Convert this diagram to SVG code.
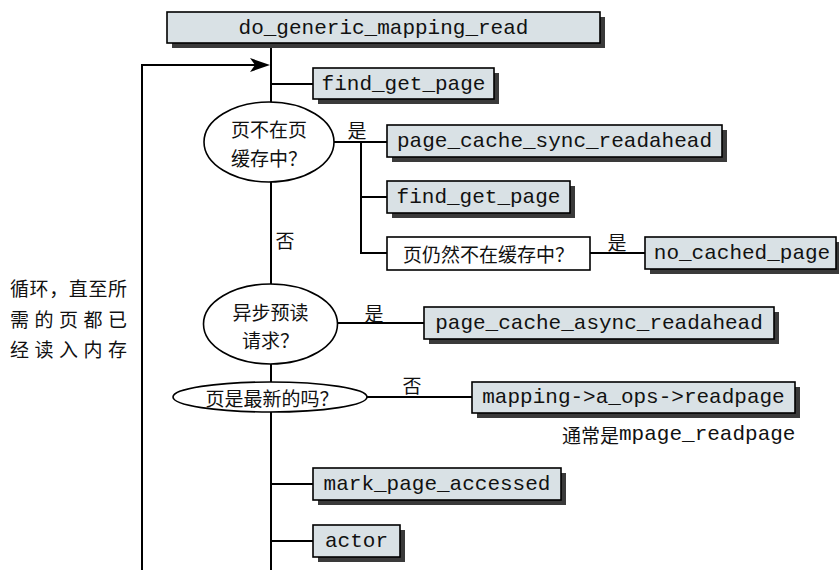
<svg xmlns="http://www.w3.org/2000/svg" width="839" height="570" viewBox="0 0 839 570">
<style>
.box{fill:#d9e1e5;stroke:#000;stroke-width:1.6}
.wbox{fill:#fff;stroke:#000;stroke-width:1.6}
.sh{fill:#3a3a3a}
.mono{font-family:"Liberation Mono","DejaVu Sans Mono",monospace;font-size:21px;fill:#111;dominant-baseline:central}
.cjk{font-family:"Noto Sans CJK SC",sans-serif;font-size:19px;fill:#111;dominant-baseline:central}
.ell{fill:#fff;stroke:#000;stroke-width:1.6}
.ln{fill:none;stroke:#000;stroke-width:2}
</style>
<rect width="839" height="570" fill="#fff"/>
<g id="connectors">
<line class="ln" x1="271" y1="43" x2="271" y2="570"/>
<polyline class="ln" points="142,570 142,65 258,65"/>
<polygon points="270,65 250,58 255,65 250,72" fill="#000"/>
<line class="ln" x1="271" y1="84" x2="313" y2="84"/>
<line class="ln" x1="330" y1="142" x2="387" y2="142"/>
<polyline class="ln" points="361,142 361,253 387,253"/>
<line class="ln" x1="361" y1="197" x2="387" y2="197"/>
<line class="ln" x1="590" y1="253" x2="645" y2="253"/>
<line class="ln" x1="336" y1="323" x2="424" y2="323"/>
<line class="ln" x1="366" y1="397" x2="472" y2="397"/>
<line class="ln" x1="271" y1="484" x2="313" y2="484"/>
<line class="ln" x1="271" y1="541" x2="313" y2="541"/>
</g>
<g id="n_top">
<rect class="sh" x="172" y="17" width="433" height="31"/>
<rect class="box" x="167" y="12" width="433" height="31"/>
<text class="mono" x="383.5" y="28" text-anchor="middle">do_generic_mapping_read</text>
</g>
<g id="n_find1">
<rect class="sh" x="318" y="73" width="181" height="31"/>
<rect class="box" x="313" y="68" width="181" height="31"/>
<text class="mono" x="403.5" y="84" text-anchor="middle">find_get_page</text>
</g>
<g id="n_q1">
<ellipse class="ell" cx="269" cy="142" rx="65" ry="40"/>
<text class="cjk" x="269" y="128" text-anchor="middle">页不在页</text>
<text class="cjk" x="269" y="157" text-anchor="middle">缓存中？</text>
</g>
<g id="l_yes1"><text class="cjk" x="357" y="129" text-anchor="middle">是</text></g>
<g id="n_sync">
<rect class="sh" x="392" y="130" width="335" height="32"/>
<rect class="box" x="387" y="125" width="335" height="32"/>
<text class="mono" x="554.5" y="141" text-anchor="middle">page_cache_sync_readahead</text>
</g>
<g id="n_find2">
<rect class="sh" x="392" y="186" width="183" height="32"/>
<rect class="box" x="387" y="181" width="183" height="32"/>
<text class="mono" x="478.5" y="197" text-anchor="middle">find_get_page</text>
</g>
<g id="n_still">
<rect class="wbox" x="387" y="237" width="203" height="33"/>
<text class="cjk" x="488.5" y="253" text-anchor="middle">页仍然不在缓存中？</text>
</g>
<g id="l_yes2"><text class="cjk" x="617" y="241" text-anchor="middle">是</text></g>
<g id="n_nocached">
<rect class="sh" x="650" y="242" width="195" height="32"/>
<rect class="box" x="645" y="237" width="191" height="32"/>
<text class="mono" x="742" y="253" text-anchor="middle">no_cached_page</text>
</g>
<g id="l_no1"><text class="cjk" x="285" y="239" text-anchor="middle">否</text></g>
<g id="n_q2">
<ellipse class="ell" cx="270.5" cy="324" rx="67" ry="40"/>
<text class="cjk" x="270.5" y="311" text-anchor="middle">异步预读</text>
<text class="cjk" x="270.5" y="339" text-anchor="middle">请求？</text>
</g>
<g id="l_yes3"><text class="cjk" x="374" y="312" text-anchor="middle">是</text></g>
<g id="n_async">
<rect class="sh" x="429" y="312" width="350" height="32"/>
<rect class="box" x="424" y="307" width="350" height="32"/>
<text class="mono" x="599" y="323" text-anchor="middle">page_cache_async_readahead</text>
</g>
<g id="n_q3">
<ellipse class="ell" cx="270" cy="397" rx="97" ry="15"/>
<text class="cjk" x="272" y="397" text-anchor="middle">页是最新的吗？</text>
</g>
<g id="l_no2"><text class="cjk" x="412" y="384" text-anchor="middle">否</text></g>
<g id="n_mapping">
<rect class="sh" x="477" y="387" width="323" height="31"/>
<rect class="box" x="472" y="382" width="323" height="31"/>
<text class="mono" x="633.5" y="397.5" text-anchor="middle">mapping-&gt;a_ops-&gt;readpage</text>
</g>
<g id="l_note"><text x="562" y="434" style="dominant-baseline:central"><tspan class="cjk" font-size="20">通常是</tspan><tspan class="mono" font-size="19">mpage_readpage</tspan></text></g>
<g id="n_mark">
<rect class="sh" x="318" y="473" width="248" height="32"/>
<rect class="box" x="313" y="468" width="248" height="32"/>
<text class="mono" x="437" y="484" text-anchor="middle">mark_page_accessed</text>
</g>
<g id="n_actor">
<rect class="sh" x="318" y="530" width="87" height="32"/>
<rect class="box" x="313" y="525" width="87" height="32"/>
<text class="mono" x="356.5" y="541" text-anchor="middle">actor</text>
</g>
<g id="l_loop">
<text class="cjk" x="10" y="287" font-size="19.5" textLength="117" lengthAdjust="spacing">循环，直至所</text>
<text class="cjk" x="10" y="318" font-size="19.5" textLength="117" lengthAdjust="spacing">需的页都已</text>
<text class="cjk" x="10" y="348" font-size="19.5" textLength="117" lengthAdjust="spacing">经读入内存</text>
</g>
</svg>
